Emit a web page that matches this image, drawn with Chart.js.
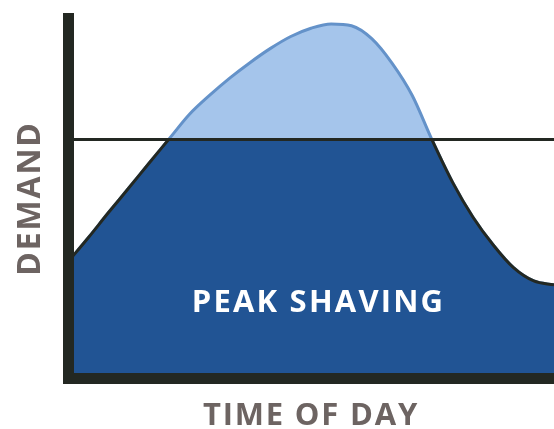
<!DOCTYPE html>
<html>
<head>
<meta charset="utf-8">
<script src="https://cdn.jsdelivr.net/npm/chart.js@4.4.1/dist/chart.umd.min.js"></script>
<style>
  body { margin: 0; background: #fff; }
  canvas { display: block; }
</style>
</head>
<body>
<canvas id="peakChart" width="554" height="429"></canvas>
<script>
// hour of day and demand (0-100)
const hours = [0, 1, 2, 3, 4, 5, 6, 7, 8, 9, 10, 11, 12, 13, 14, 15, 16, 17, 18, 19, 20, 21, 22, 23, 24];
const demand = [32.4, 39.1, 46.1, 52.9, 59.8, 66.6, 73.4, 78.7, 83.5, 87.8, 91.7, 95.0, 97.3, 98.5, 98.0, 94.4, 87.6, 78.6, 66.0, 54.4, 44.8, 37.1, 30.8, 27.1, 26.0];
const shaveLevel = 66.4; // demand cap
const xLabel = "TIME OF DAY";
const yLabel = "DEMAND";
const areaText = "PEAK SHAVING";

const curve = hours.map((h, i) => ({ x: h, y: demand[i] }));
const capLine = [{ x: hours[0], y: shaveLevel }, { x: hours[hours.length - 1], y: shaveLevel }];

const axisColor = "#232822";
const labelColor = "#6d6462";
const darkBlue = "#215494";

// colour only the part below the cap, leave the rest see-through
function belowCap(c, color) {
    const chart = c.chart;
    const area = chart.chartArea;
    if (!area) return color;
    const y = chart.scales.y.getPixelForValue(shaveLevel);
    const f = (y - area.top) / (area.bottom - area.top);
    const g = chart.ctx.createLinearGradient(0, area.top, 0, area.bottom);
    g.addColorStop(0, "rgba(0,0,0,0)");
    g.addColorStop(f, "rgba(0,0,0,0)");
    g.addColorStop(Math.min(1, f + 0.001), color);
    g.addColorStop(1, color);
    return g;
}

// wider letters for the axis titles
const spacing = {
    id: "spacing",
    beforeDraw(chart) { chart.ctx.letterSpacing = "1.8px"; }
};

const areaLabel = {
    id: "areaLabel",
    afterDatasetsDraw(chart) {
        const ctx = chart.ctx;
        ctx.save();
        ctx.fillStyle = "#ffffff";
        ctx.font = "bold 31px 'Open Sans'";
        ctx.letterSpacing = "2.2px";
        ctx.textAlign = "center";
        ctx.textBaseline = "alphabetic";
        ctx.fillText(areaText, 318.5, 312);
        ctx.restore();
    }
};

const ctx = document.getElementById("peakChart").getContext("2d");
let chart = new Chart(ctx, {
    type: "line",
    data: {
        datasets: [
            {
                label: "Demand",
                data: curve,
                order: 2,
                borderColor: "#6492c9",
                borderWidth: 3,
                backgroundColor: "#a5c5eb",
                fill: "start",
                pointRadius: 0,
                cubicInterpolationMode: "monotone"
            },
            {
                label: "Shaved demand",
                data: curve,
                order: 1,
                borderColor: c => belowCap(c, axisColor),
                borderWidth: 3,
                backgroundColor: c => belowCap(c, darkBlue),
                fill: "start",
                pointRadius: 0,
                cubicInterpolationMode: "monotone"
            },
            {
                label: "Cap",
                data: capLine,
                order: 0,
                borderColor: axisColor,
                borderWidth: 3,
                pointRadius: 0,
                fill: false
            }
        ]
    },
    options: {
        responsive: false,
        animation: false,
        layout: { padding: { top: 18.5, right: 0, left: 0, bottom: 0 } },
        plugins: { legend: { display: false }, tooltip: { enabled: false } },
        scales: {
            x: {
                type: "linear",
                min: 0,
                max: 24,
                grid: { display: false, drawTicks: false },
                ticks: { display: false },
                border: { display: true, color: axisColor, width: 11, z: 1 },
                title: {
                    display: true,
                    text: xLabel,
                    color: labelColor,
                    font: { family: "Open Sans", size: 31, weight: "bold", lineHeight: 1 },
                    padding: { top: 0, bottom: -3 }
                },
                afterFit: s => { s.height = 50.5; }
            },
            y: {
                min: 0,
                max: 100,
                grid: { display: false, drawTicks: false },
                ticks: { display: false },
                border: { display: true, color: axisColor, width: 11, z: 1 },
                title: {
                    display: true,
                    text: yLabel,
                    color: labelColor,
                    font: { family: "Open Sans", size: 32, weight: "bold", lineHeight: 1 },
                    padding: { top: 15, bottom: 0 }
                },
                afterFit: s => { s.width = 68; }
            }
        }
    },
    plugins: [spacing, areaLabel]
});
</script>
</body>
</html>
